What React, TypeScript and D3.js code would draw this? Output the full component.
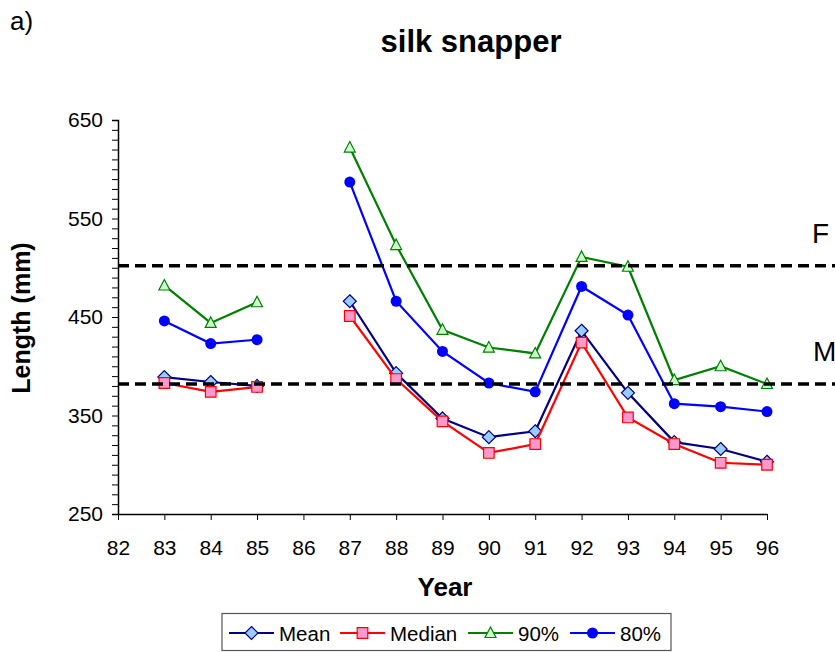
import * as d3 from 'd3';
import { useEffect, useRef } from 'react';

const years = [83, 84, 85, 86, 87, 88, 89, 90, 91, 92, 93, 94, 95, 96];
const xTicks = [82, 83, 84, 85, 86, 87, 88, 89, 90, 91, 92, 93, 94, 95, 96];
const yTicks = [250, 350, 450, 550, 650];

// null = no sample that year
const meanValues = [389, 384, 380, null, 466, 393, 347, 328, 334, 436, 373, 323, 316, 303];
const medianValues = [383, 374, 379, null, 451, 387, 344, 312, 321, 424, 348, 321, 302, 300];
const p90Values = [482, 444, 465, null, 622, 523, 437, 419, 413, 511, 501, 386, 400, 382];
const p80Values = [446, 423, 427, null, 587, 466, 415, 383, 374, 481, 452, 362, 359, 354];

const refLines = [
  { label: 'F', value: 502 },
  { label: 'M', value: 382 },
];

const FONT = '"Liberation Sans", Arial, sans-serif';

type Shape = 'diamond' | 'square' | 'triangle' | 'circle';

const series: {
  name: string;
  values: (number | null)[];
  line: string;
  fill: string;
  stroke: string;
  shape: Shape;
}[] = [
  { name: 'Mean', values: meanValues, line: '#000080', fill: '#99ccff', stroke: '#000080', shape: 'diamond' },
  { name: 'Median', values: medianValues, line: '#ff0000', fill: '#ff99cc', stroke: '#ff0000', shape: 'square' },
  { name: '90%', values: p90Values, line: '#008000', fill: '#ccffcc', stroke: '#008000', shape: 'triangle' },
  { name: '80%', values: p80Values, line: '#0000ff', fill: '#0000ff', stroke: '#0000ff', shape: 'circle' },
];

const markerPath = (shape: Shape) => {
  switch (shape) {
    case 'diamond':
      return 'M0,-6.5L6.5,0L0,6.5L-6.5,0Z';
    case 'square':
      return 'M-5.3,-5.3H5.3V5.3H-5.3Z';
    case 'triangle':
      return 'M0,-6L5.5,4.5H-5.5Z';
    default:
      return d3.symbol(d3.symbolCircle, Math.PI * 5.5 * 5.5)()!;
  }
};

const App = () => {
  const ref = useRef<SVGSVGElement | null>(null);
  const width = 835;
  const height = 652;
  const margin = { left: 118, right: 68, top: 120, bottom: 138 };

  useEffect(() => {
    if (!ref.current) return;
    const svg = d3.select(ref.current);
    svg.selectAll('*').remove();

    const x = d3.scaleLinear().domain([82, 96]).range([margin.left, width - margin.right]);
    const y = d3.scaleLinear().domain([250, 650]).range([height - margin.bottom, margin.top]);

    // titles
    svg.append('text').attr('x', 10).attr('y', 30).attr('font-family', FONT).attr('font-size', 26).text('a)');
    svg
      .append('text')
      .attr('x', 471)
      .attr('y', 52)
      .attr('text-anchor', 'middle')
      .attr('font-family', FONT)
      .attr('font-weight', 'bold')
      .attr('font-size', 31)
      .text('silk snapper');

    // y axis
    const yAxis = svg
      .append('g')
      .attr('transform', `translate(${margin.left},0)`)
      .call(
        d3
          .axisLeft(y)
          .tickValues(d3.range(250, 651, 10))
          .tickSize(6)
          .tickFormat((d) => (yTicks.includes(d as number) ? String(d) : ''))
      );
    yAxis.select('.domain').attr('stroke', '#000').attr('stroke-width', 1.5);
    yAxis.selectAll('.tick line').attr('stroke', '#000');
    yAxis
      .selectAll('text')
      .attr('font-family', FONT)
      .attr('font-size', 21)
      .attr('fill', '#000')
      .attr('x', -15);

    // x axis
    const xAxis = svg
      .append('g')
      .attr('transform', `translate(0,${height - margin.bottom})`)
      .call(d3.axisBottom(x).tickValues(xTicks).tickSize(6).tickSizeOuter(0).tickFormat(d3.format('d')));
    xAxis.select('.domain').attr('stroke', '#000').attr('stroke-width', 1.5);
    xAxis.selectAll('.tick line').attr('stroke', '#000');
    xAxis
      .selectAll('text')
      .attr('font-family', FONT)
      .attr('font-size', 21)
      .attr('fill', '#000')
      .attr('y', 26);

    svg
      .append('text')
      .attr('x', 445)
      .attr('y', 596)
      .attr('text-anchor', 'middle')
      .attr('font-family', FONT)
      .attr('font-weight', 'bold')
      .attr('font-size', 26)
      .text('Year');

    svg
      .append('text')
      .attr('transform', `translate(30,318) rotate(-90)`)
      .attr('text-anchor', 'middle')
      .attr('font-family', FONT)
      .attr('font-weight', 'bold')
      .attr('font-size', 25)
      .text('Length (mm)');

    // series
    const line = d3
      .line<number | null>()
      .defined((d) => d != null)
      .x((_, i) => x(years[i]))
      .y((d) => y(d as number));

    series.forEach((s) => {
      const g = svg.append('g');
      g.append('path')
        .attr('d', line(s.values))
        .attr('fill', 'none')
        .attr('stroke', s.line)
        .attr('stroke-width', 2.2);
      g.selectAll('path.m')
        .data(s.values.map((v, i) => ({ v, yr: years[i] })).filter((d) => d.v != null))
        .join('path')
        .attr('class', 'm')
        .attr('d', markerPath(s.shape))
        .attr('transform', (d) => `translate(${x(d.yr)},${y(d.v as number)})`)
        .attr('fill', s.fill)
        .attr('stroke', s.stroke)
        .attr('stroke-width', s.shape === 'circle' ? 0 : 1.2);
    });

    // reference lines
    refLines.forEach((r, i) => {
      svg
        .append('line')
        .attr('x1', margin.left)
        .attr('x2', width)
        .attr('y1', y(r.value))
        .attr('y2', y(r.value))
        .attr('stroke', '#000')
        .attr('stroke-width', 3.5)
        .attr('stroke-dasharray', '11,6');
      svg
        .append('text')
        .attr('x', i === 0 ? 812 : 813)
        .attr('y', y(r.value) - 23)
        .attr('font-family', FONT)
        .attr('font-size', 28)
        .text(r.label);
    });

    // legend
    const lg = svg.append('g');
    lg.append('rect')
      .attr('x', 222)
      .attr('y', 613.5)
      .attr('width', 449)
      .attr('height', 37)
      .attr('fill', '#fff')
      .attr('stroke', '#555')
      .attr('stroke-width', 1.2);
    const legendX = [229, 340, 468, 570];
    series.forEach((s, i) => {
      const lx = legendX[i];
      lg.append('line')
        .attr('x1', lx)
        .attr('x2', lx + 45)
        .attr('y1', 633)
        .attr('y2', 633)
        .attr('stroke', s.line)
        .attr('stroke-width', 2.2);
      lg.append('path')
        .attr('d', markerPath(s.shape))
        .attr('transform', `translate(${lx + 22.5},633)`)
        .attr('fill', s.fill)
        .attr('stroke', s.stroke)
        .attr('stroke-width', s.shape === 'circle' ? 0 : 1.2);
      lg.append('text')
        .attr('x', lx + 50)
        .attr('y', 640.5)
        .attr('font-family', FONT)
        .attr('font-size', 20.5)
        .text(s.name);
    });
  }, []);

  return (
    <svg
      ref={ref}
      width={width}
      height={height}
      style={{ position: 'absolute', left: 0, top: 0, background: '#fff' }}
    />
  );
};

export default App;
